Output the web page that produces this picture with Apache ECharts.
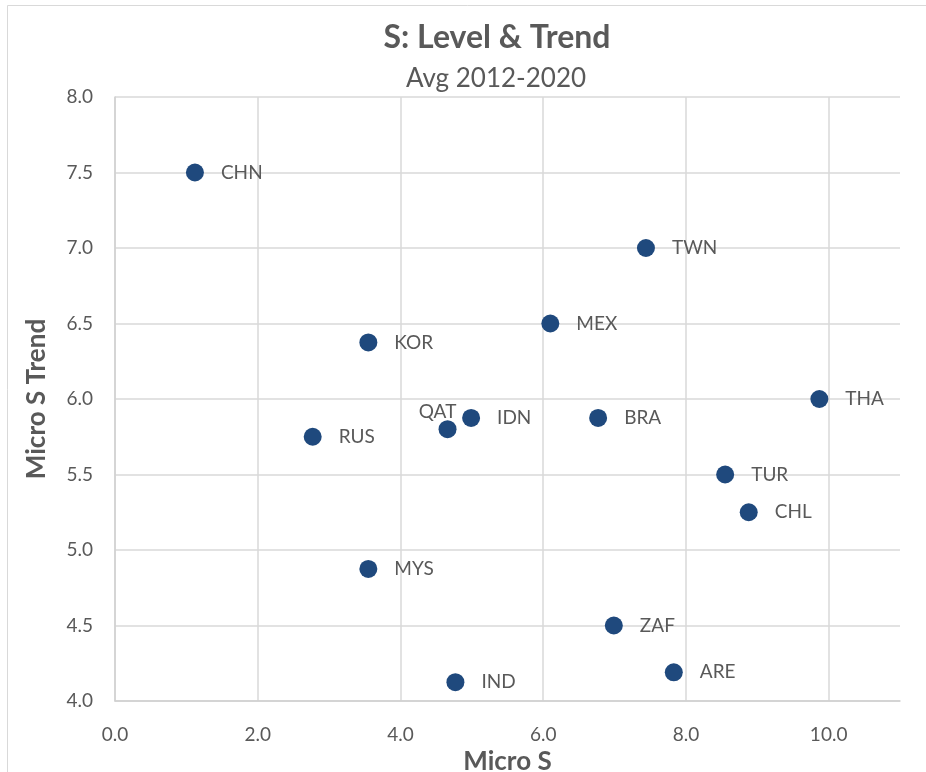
<!DOCTYPE html>
<html>
    <head>
        <meta charset="utf-8">
        <script src="https://cdn.jsdelivr.net/npm/echarts@6/dist/echarts.min.js"></script>
    </head>
    <body style="margin:0">
        <style>
            html, body, #main {
                width: 926px;
                height: 772px;
            }
        </style>
        <div id="main"></div>
        <script>
            // country codes and their values
            var countries = ['CHN', 'TWN', 'MEX', 'KOR', 'THA', 'QAT', 'IDN', 'BRA', 'RUS', 'TUR', 'CHL', 'MYS', 'ZAF', 'ARE', 'IND'];
            var microS = [1.12, 7.44, 6.10, 3.55, 9.87, 4.66, 4.99, 6.77, 2.77, 8.55, 8.88, 3.55, 6.99, 7.83, 4.77];
            var microSTrend = [7.5, 7.0, 6.5, 6.375, 6.0, 5.8, 5.875, 5.875, 5.75, 5.5, 5.25, 4.875, 4.5, 4.19, 4.125];

            var textColor = '#595959';
            var font = 'Lato, "Open Sans", sans-serif';

            var chart = echarts.init(document.getElementById('main'));

            var points = countries.map(function (c, i) {
                var item = { name: c, value: [microS[i], microSTrend[i]] };
                if (c === 'QAT') {
                    item.label = { position: 'top', distance: 0, offset: [-10, 1] };
                }
                return item;
            });

            chart.setOption({
                animation: false,
                backgroundColor: '#fff',
                textStyle: { fontFamily: font },
                title: [{
                    text: 'S: Level & Trend',
                    left: 492,
                    top: 17,
                    textAlign: 'center',
                    textStyle: { fontSize: 32, fontWeight: 'bold', color: textColor, fontFamily: font }
                }, {
                    text: 'Avg 2012-2020',
                    left: 491,
                    top: 61,
                    textAlign: 'center',
                    textStyle: { fontSize: 26, fontWeight: 'normal', color: textColor, fontFamily: font }
                }],
                graphic: [{
                    type: 'rect',
                    shape: { x: 7.5, y: 5.5, width: 940, height: 800 },
                    style: { fill: 'none', stroke: '#d9d9d9', lineWidth: 1 },
                    silent: true
                }],
                grid: { left: 115, right: 26, top: 97, bottom: 71, containLabel: false, outerBoundsMode: 'none' },
                xAxis: {
                    type: 'value',
                    min: 0,
                    max: 11,
                    interval: 2,
                    name: 'Micro S',
                    nameLocation: 'middle',
                    nameGap: 33,
                    nameTextStyle: { fontSize: 26, fontWeight: 'bold', color: textColor },
                    axisLine: { show: true, lineStyle: { color: '#d0d0d0', width: 1.5 } },
                    axisTick: { show: false },
                    axisLabel: {
                        showMaxLabel: false,
                        fontSize: 19,
                        color: textColor,
                        margin: 24,
                        formatter: function (v) { return v.toFixed(1); }
                    },
                    splitLine: {
                        show: true,
                        showMaxLine: false,
                        lineStyle: { color: '#d9d9d9', width: 1.5 }
                    }
                },
                yAxis: {
                    type: 'value',
                    min: 4,
                    max: 8,
                    interval: 0.5,
                    name: 'Micro S Trend',
                    nameLocation: 'middle',
                    nameGap: 65,
                    nameTextStyle: { fontSize: 26, fontWeight: 'bold', color: textColor },
                    axisLine: { show: true, lineStyle: { color: '#d0d0d0', width: 1.5 } },
                    axisTick: { show: false },
                    axisLabel: {
                        fontSize: 19,
                        color: textColor,
                        margin: 22,
                        formatter: function (v) { return v.toFixed(1); }
                    },
                    splitLine: { show: true, lineStyle: { color: '#d9d9d9', width: 1.5 } }
                },
                series: [{
                    type: 'scatter',
                    symbolSize: 18,
                    itemStyle: { color: '#1f497d', opacity: 1 },
                    label: {
                        show: true,
                        position: 'right',
                        distance: 17,
                        formatter: '{b}',
                        fontSize: 19,
                        color: textColor,
                        fontFamily: font
                    },
                    data: points
                }]
            });
        </script>
    </body>
</html>
